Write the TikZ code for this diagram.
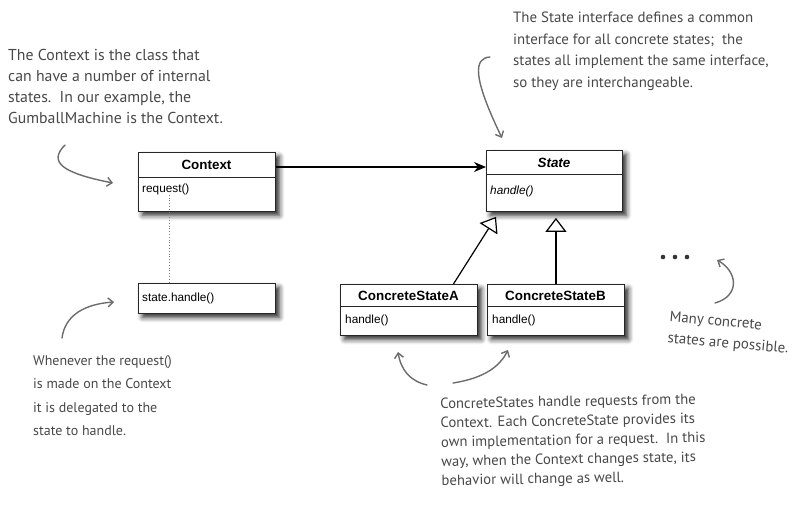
\documentclass[tikz,border=0pt]{standalone}
\usepackage{fontspec}
\setmainfont{Liberation Sans}
\newfontfamily\hand{PT Sans}
\usetikzlibrary{arrows.meta,shadows.blur}
\definecolor{notetext}{HTML}{484848}
\definecolor{notearrow}{HTML}{6C6C6C}
\begin{document}
\begin{tikzpicture}[x=1pt,y=-1pt,
 classbox/.style={draw=black!85, line width=0.9pt, fill=white, inner sep=0pt,
   blur shadow={shadow xshift=4pt, shadow yshift=-4pt, shadow blur radius=5pt, shadow opacity=85}},
 ctitle/.style={font=\fontsize{13.4}{16}\selectfont\bfseries, inner sep=0pt},
 cbody/.style={font=\fontsize{11.8}{14}\selectfont, inner sep=0pt, anchor=west},
 divider/.style={line width=0.9pt, draw=black!85},
 note/.style={font=\hand\fontsize{14.7}{21}\selectfont, text=notetext, align=left, anchor=north west, inner sep=0pt},
 notearrow/.style={draw=notearrow, line width=1.4pt, line cap=round, -{Straight Barb[length=5pt,width=9pt]}},
 assoc/.style={line width=1.3pt, -{Stealth[length=12pt,width=10pt]}},
 inherit/.style={line width=1.2pt, -{Triangle[open, fill=white, length=14pt, width=21pt]}}]

\useasboundingbox (0,0) rectangle (803,506);

% Context
\node[classbox, minimum width=137pt, minimum height=59pt, anchor=north west] (ctx) at (138,152) {};
\draw[divider] (138,177) -- (275,177);
\node[ctitle] (ctxT) at (206.5,165) {Context};
\node[cbody] (req) at (142,189) {request()};

% state.handle()
\node[classbox, minimum width=137pt, minimum height=30pt, anchor=north west] (sh) at (138,283) {};
\node[cbody] (shT) at (142,298) {state.handle()};

% State
\node[classbox, minimum width=136pt, minimum height=61pt, anchor=north west] (st) at (486,150) {};
\draw[divider] (486,174) -- (622,174);
\node[ctitle, font=\fontsize{13.4}{16}\selectfont\bfseries\itshape] (stT) at (554,162.5) {State};
\node[cbody, font=\fontsize{11.8}{14}\selectfont\itshape] (stH) at (490,191) {handle()};

% ConcreteStateA
\node[classbox, minimum width=137pt, minimum height=51pt, anchor=north west] (ca) at (340,284) {};
\draw[divider] (340,306) -- (477,306);
\node[ctitle] (caT) at (408.5,295.5) {ConcreteStateA};
\node[cbody] (caH) at (345,320) {handle()};

% ConcreteStateB
\node[classbox, minimum width=137pt, minimum height=51pt, anchor=north west] (cb) at (487,284) {};
\draw[divider] (487,306) -- (624,306);
\node[ctitle] (cbT) at (555.5,295.5) {ConcreteStateB};
\node[cbody] (cbH) at (492,320) {handle()};

% connectors
\draw[assoc] ([yshift=-15pt]ctx.north east) -- ([yshift=-15pt]ctx.north east -| st.west);
\draw[inherit] ([xshift=44.5pt]ca.north) -- ([xshift=10pt,yshift=-5pt]st.south west);
\draw[inherit] (cb.north) -- ([yshift=-6pt]cb.north |- st.south);
\draw[gray, line width=0.8pt, dotted] (req.south) ++(4pt,0) coordinate (dtop) -- (dtop |- sh.north);

% dots
\fill[black!80] (663,257) circle (2.3pt) (675,257) circle (2.3pt) (687,257) circle (2.3pt);

% notes
\node[note, font=\hand\fontsize{15.8}{21}\selectfont] (n1) at (8,49) {The Context is the class that\\can have a number of internal\\states.\ \ In our example, the\\GumballMachine is the Context.};
\node[note, font=\hand\fontsize{14.9}{21.5}\selectfont] (n2) at (513,12) {The State interface defines a common\\interface for all concrete states;\ \ the\\states all implement the same interface,\\so they are interchangeable.};
\node[note, font=\hand\fontsize{14}{23.5}\selectfont] (n3) at (33,355) {Whenever the request()\\is made on the Context\\it is delegated to the\\state to handle.};
\node[note, font=\hand\fontsize{14.7}{19.2}\selectfont, rotate=1] (n4) at (440,398) {ConcreteStates handle requests from the\\Context. Each ConcreteState provides its\\own implementation for a request.\ \ In this\\way, when the Context changes state, its\\behavior will change as well.};
\node[note, font=\hand\fontsize{14.9}{21}\selectfont, rotate=-5] (n5) at (670,311) {Many concrete\\states are possible.};

% note arrows
\draw[notearrow] (65,145) .. controls (48,162) and (62,173) .. (113,183);
\draw[notearrow] (62,338) .. controls (65,315) and (85,304) .. (114,302);
\draw[notearrow] (490,57) .. controls (474,58) and (472,76) .. (502,138);
\draw[notearrow] (715,303) .. controls (740,296) and (738,272) .. (717,260);
\draw[notearrow] (427,385) .. controls (410,381) and (401,370) .. (398,352);
\draw[notearrow] (453,383) .. controls (485,378) and (500,366) .. (508,350);
\end{tikzpicture}
\end{document}
